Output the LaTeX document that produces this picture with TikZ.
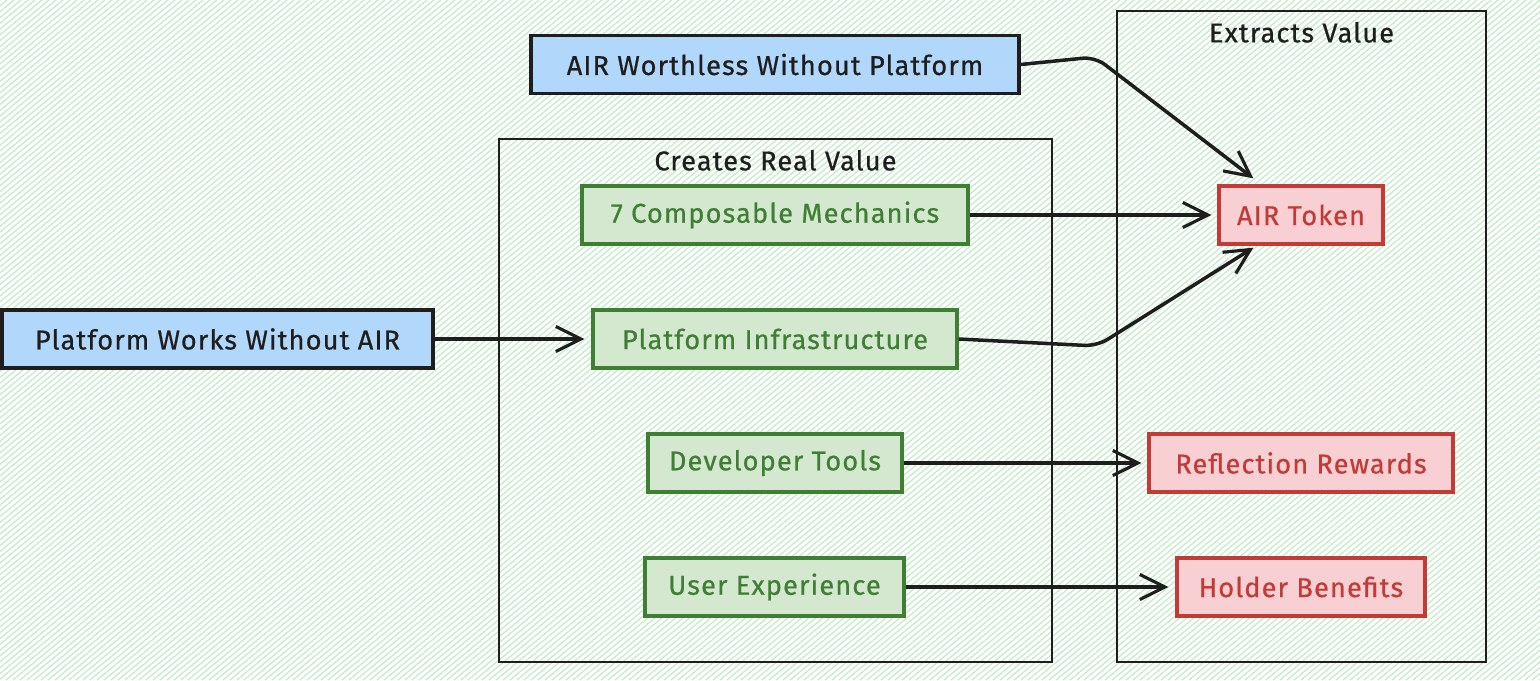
\documentclass[tikz,border=0pt]{standalone}
\usepackage{fontspec}
\setmainfont{Fira Sans}[LetterSpace=4, FakeBold=0.6]
\usepackage{xcolor}
\usetikzlibrary{arrows.meta, positioning, calc}

\definecolor{hatch}{HTML}{C2ECC8}
\definecolor{bluefill}{HTML}{B1D7FB}
\definecolor{greenfill}{HTML}{D3E8CF}
\definecolor{greenline}{HTML}{3F7F34}
\definecolor{redfill}{HTML}{F8CFD3}
\definecolor{redline}{HTML}{C33B37}
\definecolor{inkline}{HTML}{1E1E1E}

\begin{document}
\begin{tikzpicture}[
    x=0.02cm, y=-0.02cm,
    box/.style={rectangle, draw=inkline, line width=1.9pt, minimum height=1.16cm, inner sep=0pt, font=\fontsize{15.5}{18}\selectfont},
    ask/.style={box, fill=bluefill, text=inkline},
    gives/.style={box, fill=greenfill, draw=greenline, text=greenline},
    takes/.style={box, fill=redfill, draw=redline, text=redline},
    frame/.style={rectangle, draw=inkline, line width=1.5pt, inner sep=0pt},
    title/.style={font=\fontsize{15.5}{18}\selectfont, text=inkline},
    arrow/.style={-{Straight Barb[length=5mm, width=5mm, line width=1.8pt]}, line width=2pt, draw=inkline}
]
    % background
    \useasboundingbox (0,0) rectangle (1540,680);
    \fill[white] (0,0) rectangle (1540,680);
    \begin{scope}
        \clip (0,0) rectangle (1540,680);
        \foreach \k in {-820,-813,...,1540}
            \draw[hatch, line width=0.7pt] (\k,680) -- ++(820,-680);
    \end{scope}

    % frames
    \node [frame, minimum width=11.06cm, minimum height=10.46cm] (creates) at (775.5,400.5) {};
    \node [title, below=0.12cm of creates.north] (createslbl) {Creates Real Value};
    \node [frame, minimum width=7.38cm, minimum height=13.02cm] (extracts) at (1301.5,336.5) {};
    \node [title, below=0.12cm of extracts.north] (extractslbl) {Extracts Value};

    % left side
    \node [ask, minimum width=9.76cm] (worthless) at (775,64.5) {AIR Worthless Without Platform};
    \node [ask, minimum width=8.62cm] (works) at (217.5,339) {Platform Works Without AIR};

    % real value
    \node [gives, minimum width=7.72cm] (mechanics) at (775,215) {7 Composable Mechanics};
    \node [gives, minimum width=7.28cm] (infra) at (775,339) {Platform Infrastructure};
    \node [gives, minimum width=5.08cm] (devtools) at (775,463) {Developer Tools};
    \node [gives, minimum width=5.18cm] (ux) at (774.5,587) {User Experience};

    % extracted value
    \node [takes, minimum width=3.28cm] (token) at (1301,215) {AIR Token};
    \node [takes, minimum width=6.08cm] (rewards) at (1301,463) {Reflection Rewards};
    \node [takes, minimum width=4.96cm] (benefits) at (1301,587) {Holder Benefits};

    \coordinate (bendtop) at (1095,57);
    \coordinate (bendlow) at (1097,346);

    \draw [arrow, rounded corners=7pt] (worthless.east) -- (bendtop) -- ([xshift=0.72cm, yshift=0.12cm]token.north west);
    \draw [arrow] (mechanics.east) -- ([xshift=-0.12cm]token.west);
    \draw [arrow, rounded corners=7pt] (infra.east) -- (bendlow) -- ([xshift=0.72cm, yshift=-0.04cm]token.south west);
    \draw [arrow] (devtools.east) -- ([xshift=-0.12cm]rewards.west);
    \draw [arrow] (ux.east) -- ([xshift=-0.14cm]benefits.west);
    \draw [arrow] (works.east) -- ([xshift=-0.14cm]infra.west);
\end{tikzpicture}
\end{document}
